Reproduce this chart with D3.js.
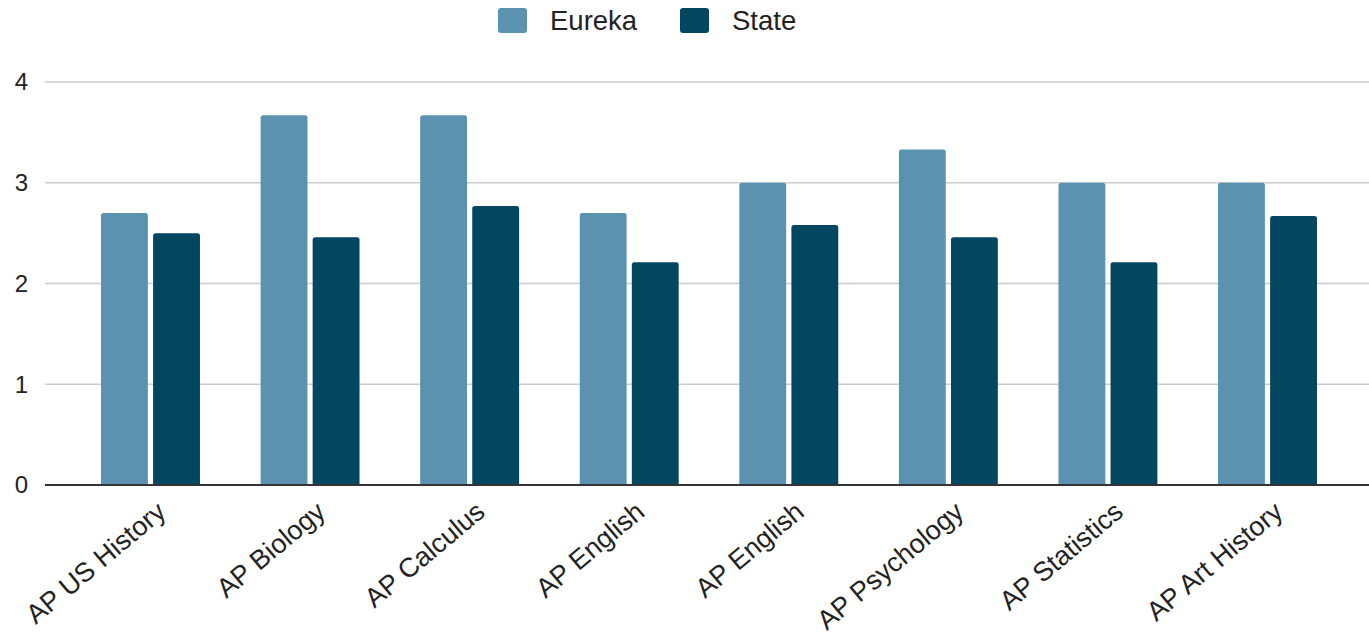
<!DOCTYPE html>
<html><head><meta charset="utf-8">
<script src="https://cdn.jsdelivr.net/npm/d3@7"></script>
<style>
html,body{margin:0;padding:0;background:#fff;}
svg{display:block;font-family:"Liberation Sans",Arial,sans-serif;}
</style></head>
<body><svg id="c" width="1369" height="635"></svg>
<script>
const categories = ["AP US History","AP Biology","AP Calculus","AP English","AP English","AP Psychology","AP Statistics","AP Art History"];
const seriesNames = ["Eureka","State"];
const eureka = [2.7, 3.67, 3.67, 2.7, 3.0, 3.33, 3.0, 3.0];
const state  = [2.5, 2.46, 2.77, 2.21, 2.58, 2.46, 2.21, 2.67];
const yTicks = [0,1,2,3,4];
const colors = ["#5b92b0","#02465f"];

const svg = d3.select("#c");
const x0 = d3.scaleBand().domain(d3.range(categories.length)).range([70.7,1347.3]).paddingInner(0.38).paddingOuter(0.19);
const x1 = d3.scaleBand().domain(seriesNames).range([0,x0.bandwidth()]).paddingInner(0.1);
const y = d3.scaleLinear().domain([0,4]).range([485,82]);
const color = d3.scaleOrdinal().domain(seriesNames).range(colors);

// gridlines
svg.append("g").selectAll("line").data(yTicks.filter(t=>t>0)).join("line")
  .attr("x1",45).attr("x2",1369).attr("y1",d=>y(d)).attr("y2",d=>y(d))
  .attr("stroke","#cccccc").attr("stroke-width",1.5);

// y labels
svg.append("g").selectAll("text").data(yTicks).join("text")
  .attr("x",28).attr("y",d=>y(d)).attr("dy","0.35em").attr("text-anchor","end")
  .attr("font-size",24).attr("fill","#222").text(d=>d);

// bars
const rows = categories.map((c,i)=>({i, vals:[{s:"Eureka",v:eureka[i]},{s:"State",v:state[i]}]}));
const g = svg.append("g").selectAll("g").data(rows).join("g")
  .attr("transform",d=>`translate(${x0(d.i)},0)`);
g.selectAll("path").data(d=>d.vals).join("path")
  .attr("fill",d=>color(d.s))
  .attr("d",d=>{
    const x=x1(d.s), w=x1.bandwidth(), t=y(d.v), b=y(0), r=2.5;
    return `M${x},${b}V${t+r}Q${x},${t} ${x+r},${t}H${x+w-r}Q${x+w},${t} ${x+w},${t+r}V${b}Z`;
  });

// baseline
svg.append("line").attr("x1",45).attr("x2",1369).attr("y1",y(0)).attr("y2",y(0))
  .attr("stroke","#333").attr("stroke-width",1.8);

// x labels
svg.append("g").selectAll("text").data(categories).join("text")
  .attr("transform",(d,i)=>`translate(${x0(i)+x0.bandwidth()/2+4},${499}) rotate(-40)`)
  .attr("text-anchor","end").attr("dy","0.75em")
  .attr("font-size",27).attr("fill","#222").text(d=>d);

// legend
const legendX = [498, 680];
const lg = svg.append("g").selectAll("g").data(seriesNames).join("g")
  .attr("transform",(d,i)=>`translate(${legendX[i]},0)`);
lg.append("rect").attr("x",0).attr("y",8).attr("width",29).attr("height",25).attr("rx",3).attr("fill",d=>color(d));
lg.append("text").attr("x",52).attr("y",20.5).attr("dy","0.35em").attr("font-size",27.5).attr("fill","#222").text(d=>d);
</script></body></html>
